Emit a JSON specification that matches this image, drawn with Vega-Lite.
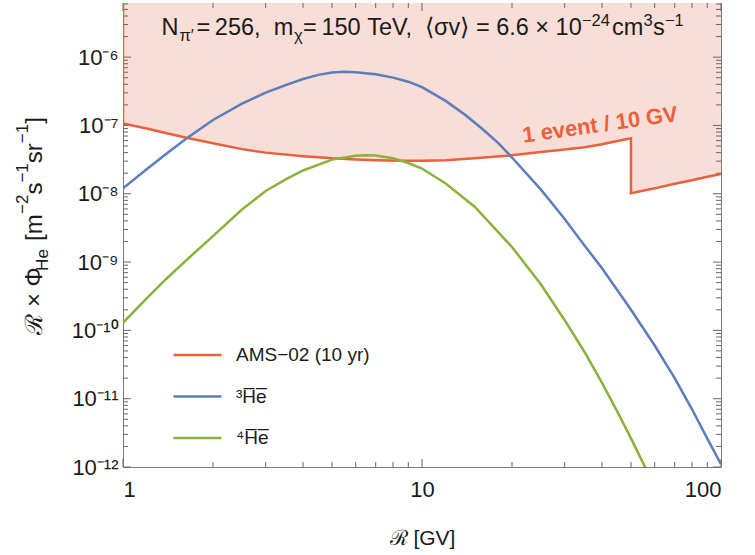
{
"$schema": "https://vega.github.io/schema/vega-lite/v6.json",
"width": 598, "height": 464,
"autosize": {"type": "none"},
"padding": {"left": 123, "top": 3, "right": 34, "bottom": 88},
"background": "white",
"config": {
  "view": {"stroke": "#7a7a7a", "strokeWidth": 1},
  "font": "Liberation Sans",
  "axis": {"domain": false, "grid": false, "ticks": false, "tickSize": 0, "labelFont": "Liberation Sans", "labelColor": "#1a1a1a", "titleFont": "Liberation Sans", "titleColor": "#1a1a1a", "titleFontWeight": "normal"},
  "text": {"font": "Liberation Sans", "color": "#1a1a1a"},
  "rule": {"color": "#666666", "strokeWidth": 1}
},
"datasets": {
  "curves": [
    {"series": "AMS", "i": 0, "R": 1, "flux": 1.07e-7},
    {"series": "AMS", "i": 1, "R": 1.2, "flux": 9.0e-8},
    {"series": "AMS", "i": 2, "R": 1.4, "flux": 7.7e-8},
    {"series": "AMS", "i": 3, "R": 1.63, "flux": 6.6e-8},
    {"series": "AMS", "i": 4, "R": 2, "flux": 5.5e-8},
    {"series": "AMS", "i": 5, "R": 2.5, "flux": 4.5e-8},
    {"series": "AMS", "i": 6, "R": 3, "flux": 4.0e-8},
    {"series": "AMS", "i": 7, "R": 4, "flux": 3.55e-8},
    {"series": "AMS", "i": 8, "R": 5, "flux": 3.3e-8},
    {"series": "AMS", "i": 9, "R": 6, "flux": 3.18e-8},
    {"series": "AMS", "i": 10, "R": 7, "flux": 3.1e-8},
    {"series": "AMS", "i": 11, "R": 8.5, "flux": 3.05e-8},
    {"series": "AMS", "i": 12, "R": 10, "flux": 3.05e-8},
    {"series": "AMS", "i": 13, "R": 12, "flux": 3.1e-8},
    {"series": "AMS", "i": 14, "R": 15, "flux": 3.3e-8},
    {"series": "AMS", "i": 15, "R": 20, "flux": 3.65e-8},
    {"series": "AMS", "i": 16, "R": 25, "flux": 4.1e-8},
    {"series": "AMS", "i": 17, "R": 30, "flux": 4.45e-8},
    {"series": "AMS", "i": 18, "R": 35, "flux": 4.8e-8},
    {"series": "AMS", "i": 19, "R": 40, "flux": 5.3e-8},
    {"series": "AMS", "i": 20, "R": 45, "flux": 5.9e-8},
    {"series": "AMS", "i": 21, "R": 50, "flux": 6.5e-8},
    {"series": "AMS", "i": 22, "R": 50, "flux": 1.02e-8},
    {"series": "AMS", "i": 23, "R": 60, "flux": 1.2e-8},
    {"series": "AMS", "i": 24, "R": 70, "flux": 1.4e-8},
    {"series": "AMS", "i": 25, "R": 80, "flux": 1.58e-8},
    {"series": "AMS", "i": 26, "R": 90, "flux": 1.77e-8},
    {"series": "AMS", "i": 27, "R": 100, "flux": 1.95e-8},
    {"series": "He3", "i": 0, "R": 1, "flux": 1.20e-8},
    {"series": "He3", "i": 1, "R": 1.2, "flux": 2.29e-8},
    {"series": "He3", "i": 2, "R": 1.4, "flux": 3.89e-8},
    {"series": "He3", "i": 3, "R": 1.63, "flux": 6.46e-8},
    {"series": "He3", "i": 4, "R": 2, "flux": 1.20e-7},
    {"series": "He3", "i": 5, "R": 2.5, "flux": 2.09e-7},
    {"series": "He3", "i": 6, "R": 3, "flux": 3.02e-7},
    {"series": "He3", "i": 7, "R": 3.5, "flux": 3.89e-7},
    {"series": "He3", "i": 8, "R": 4, "flux": 4.79e-7},
    {"series": "He3", "i": 9, "R": 4.5, "flux": 5.50e-7},
    {"series": "He3", "i": 10, "R": 5, "flux": 5.96e-7},
    {"series": "He3", "i": 11, "R": 5.5, "flux": 6.10e-7},
    {"series": "He3", "i": 12, "R": 6, "flux": 6.03e-7},
    {"series": "He3", "i": 13, "R": 7, "flux": 5.62e-7},
    {"series": "He3", "i": 14, "R": 8, "flux": 5.01e-7},
    {"series": "He3", "i": 15, "R": 9, "flux": 4.37e-7},
    {"series": "He3", "i": 16, "R": 10, "flux": 3.63e-7},
    {"series": "He3", "i": 17, "R": 12, "flux": 2.29e-7},
    {"series": "He3", "i": 18, "R": 14, "flux": 1.41e-7},
    {"series": "He3", "i": 19, "R": 16, "flux": 8.71e-8},
    {"series": "He3", "i": 20, "R": 18, "flux": 5.50e-8},
    {"series": "He3", "i": 21, "R": 20, "flux": 3.39e-8},
    {"series": "He3", "i": 22, "R": 25, "flux": 1.15e-8},
    {"series": "He3", "i": 23, "R": 30, "flux": 4.27e-9},
    {"series": "He3", "i": 24, "R": 35, "flux": 1.74e-9},
    {"series": "He3", "i": 25, "R": 40, "flux": 8.13e-10},
    {"series": "He3", "i": 26, "R": 50, "flux": 2.0e-10},
    {"series": "He3", "i": 27, "R": 60, "flux": 6.0e-11},
    {"series": "He3", "i": 28, "R": 70, "flux": 2.0e-11},
    {"series": "He3", "i": 29, "R": 80, "flux": 7.0e-12},
    {"series": "He3", "i": 30, "R": 90, "flux": 2.6e-12},
    {"series": "He3", "i": 31, "R": 100, "flux": 1.1e-12},
    {"series": "He4", "i": 0, "R": 1, "flux": 1.29e-10},
    {"series": "He4", "i": 1, "R": 1.2, "flux": 2.95e-10},
    {"series": "He4", "i": 2, "R": 1.4, "flux": 5.75e-10},
    {"series": "He4", "i": 3, "R": 1.63, "flux": 1.07e-9},
    {"series": "He4", "i": 4, "R": 2, "flux": 2.40e-9},
    {"series": "He4", "i": 5, "R": 2.5, "flux": 5.89e-9},
    {"series": "He4", "i": 6, "R": 3, "flux": 1.10e-8},
    {"series": "He4", "i": 7, "R": 3.5, "flux": 1.62e-8},
    {"series": "He4", "i": 8, "R": 4, "flux": 2.19e-8},
    {"series": "He4", "i": 9, "R": 5, "flux": 3.16e-8},
    {"series": "He4", "i": 10, "R": 6, "flux": 3.59e-8},
    {"series": "He4", "i": 11, "R": 6.5, "flux": 3.67e-8},
    {"series": "He4", "i": 12, "R": 7, "flux": 3.63e-8},
    {"series": "He4", "i": 13, "R": 8, "flux": 3.31e-8},
    {"series": "He4", "i": 14, "R": 9, "flux": 2.82e-8},
    {"series": "He4", "i": 15, "R": 10, "flux": 2.34e-8},
    {"series": "He4", "i": 16, "R": 12, "flux": 1.41e-8},
    {"series": "He4", "i": 17, "R": 15, "flux": 6.46e-9},
    {"series": "He4", "i": 18, "R": 20, "flux": 1.66e-9},
    {"series": "He4", "i": 19, "R": 25, "flux": 4.68e-10},
    {"series": "He4", "i": 20, "R": 30, "flux": 1.41e-10},
    {"series": "He4", "i": 21, "R": 35, "flux": 4.79e-11},
    {"series": "He4", "i": 22, "R": 40, "flux": 1.70e-11},
    {"series": "He4", "i": 23, "R": 45, "flux": 6.46e-12},
    {"series": "He4", "i": 24, "R": 50, "flux": 2.63e-12},
    {"series": "He4", "i": 25, "R": 55, "flux": 1.12e-12},
    {"series": "He4", "i": 26, "R": 60, "flux": 5.01e-13}
  ],
  "yticks": [
    {"v": 1e-12, "kind": "major"}, {"v": 1e-11, "kind": "major"}, {"v": 1e-10, "kind": "major"}, {"v": 1e-9, "kind": "major"}, {"v": 1e-8, "kind": "major"}, {"v": 1e-7, "kind": "major"}, {"v": 1e-6, "kind": "major"},
    {"v": 2e-12, "kind": "minor"}, {"v": 3e-12, "kind": "minor"}, {"v": 4e-12, "kind": "minor"}, {"v": 5e-12, "kind": "minor"}, {"v": 6e-12, "kind": "minor"}, {"v": 7e-12, "kind": "minor"}, {"v": 8e-12, "kind": "minor"}, {"v": 9e-12, "kind": "minor"},
    {"v": 2e-11, "kind": "minor"}, {"v": 3e-11, "kind": "minor"}, {"v": 4e-11, "kind": "minor"}, {"v": 5e-11, "kind": "minor"}, {"v": 6e-11, "kind": "minor"}, {"v": 7e-11, "kind": "minor"}, {"v": 8e-11, "kind": "minor"}, {"v": 9e-11, "kind": "minor"},
    {"v": 2e-10, "kind": "minor"}, {"v": 3e-10, "kind": "minor"}, {"v": 4e-10, "kind": "minor"}, {"v": 5e-10, "kind": "minor"}, {"v": 6e-10, "kind": "minor"}, {"v": 7e-10, "kind": "minor"}, {"v": 8e-10, "kind": "minor"}, {"v": 9e-10, "kind": "minor"},
    {"v": 2e-9, "kind": "minor"}, {"v": 3e-9, "kind": "minor"}, {"v": 4e-9, "kind": "minor"}, {"v": 5e-9, "kind": "minor"}, {"v": 6e-9, "kind": "minor"}, {"v": 7e-9, "kind": "minor"}, {"v": 8e-9, "kind": "minor"}, {"v": 9e-9, "kind": "minor"},
    {"v": 2e-8, "kind": "minor"}, {"v": 3e-8, "kind": "minor"}, {"v": 4e-8, "kind": "minor"}, {"v": 5e-8, "kind": "minor"}, {"v": 6e-8, "kind": "minor"}, {"v": 7e-8, "kind": "minor"}, {"v": 8e-8, "kind": "minor"}, {"v": 9e-8, "kind": "minor"},
    {"v": 2e-7, "kind": "minor"}, {"v": 3e-7, "kind": "minor"}, {"v": 4e-7, "kind": "minor"}, {"v": 5e-7, "kind": "minor"}, {"v": 6e-7, "kind": "minor"}, {"v": 7e-7, "kind": "minor"}, {"v": 8e-7, "kind": "minor"}, {"v": 9e-7, "kind": "minor"},
    {"v": 2e-6, "kind": "minor"}, {"v": 3e-6, "kind": "minor"}, {"v": 4e-6, "kind": "minor"}, {"v": 5e-6, "kind": "minor"}, {"v": 6e-6, "kind": "minor"}
  ],
  "xticks": [
    {"v": 1, "kind": "major"}, {"v": 10, "kind": "major"}, {"v": 100, "kind": "major"},
    {"v": 2, "kind": "minor"}, {"v": 3, "kind": "minor"}, {"v": 4, "kind": "minor"}, {"v": 5, "kind": "minor"}, {"v": 6, "kind": "minor"}, {"v": 7, "kind": "minor"}, {"v": 8, "kind": "minor"}, {"v": 9, "kind": "minor"},
    {"v": 20, "kind": "minor"}, {"v": 30, "kind": "minor"}, {"v": 40, "kind": "minor"}, {"v": 50, "kind": "minor"}, {"v": 60, "kind": "minor"}, {"v": 70, "kind": "minor"}, {"v": 80, "kind": "minor"}, {"v": 90, "kind": "minor"}
  ]
},
"resolve": {"axis": {"x": "independent", "y": "independent"}},
"layer": [
  {
    "data": {"name": "curves"},
    "transform": [{"filter": "datum.series === 'AMS'"}],
    "mark": {"type": "area", "color": "#F8DED6", "clip": true},
    "encoding": {
      "x": {"field": "R", "type": "quantitative", "scale": {"type": "log", "domain": [1, 100], "nice": false},
            "axis": {"orient": "bottom", "values": [1, 10, 100], "format": "d", "labelFontSize": 22, "labelPadding": 12, "title": "ℛ [GV]", "titleFontSize": 21, "titlePadding": 27}},
      "y": {"field": "flux", "type": "quantitative", "scale": {"type": "log", "domain": [1e-12, 6.2e-6], "nice": false},
            "axis": {"orient": "left", "values": [1e-12, 1e-11, 1e-10, 1e-9, 1e-8, 1e-7, 1e-6], "labelFontSize": 22, "labelPadding": 5, "title": null,
                     "labelExpr": "['10⁻¹²','10⁻¹¹','10⁻¹⁰','10⁻⁹','10⁻⁸','10⁻⁷','10⁻⁶'][round(log(datum.value)/LN10)+12]"}},
      "y2": {"datum": 1e-5}
    }
  },
  {"data": {"name": "yticks"}, "transform": [{"filter": "datum.kind === 'major'"}], "mark": {"type": "rule"},
   "encoding": {"y": {"field": "v", "type": "quantitative", "axis": null}, "x": {"datum": 1, "type": "quantitative", "axis": null}, "x2": {"datum": 1.0635}}},
  {"data": {"name": "yticks"}, "transform": [{"filter": "datum.kind === 'minor'"}], "mark": {"type": "rule"},
   "encoding": {"y": {"field": "v", "type": "quantitative", "axis": null}, "x": {"datum": 1, "type": "quantitative", "axis": null}, "x2": {"datum": 1.0393}}},
  {"data": {"name": "yticks"}, "transform": [{"filter": "datum.kind === 'major'"}], "mark": {"type": "rule"},
   "encoding": {"y": {"field": "v", "type": "quantitative", "axis": null}, "x": {"datum": 94.03, "type": "quantitative", "axis": null}, "x2": {"datum": 100}}},
  {"data": {"name": "yticks"}, "transform": [{"filter": "datum.kind === 'minor'"}], "mark": {"type": "rule"},
   "encoding": {"y": {"field": "v", "type": "quantitative", "axis": null}, "x": {"datum": 96.22, "type": "quantitative", "axis": null}, "x2": {"datum": 100}}},
  {"data": {"name": "xticks"}, "transform": [{"filter": "datum.kind === 'major'"}], "mark": {"type": "rule"},
   "encoding": {"x": {"field": "v", "type": "quantitative", "axis": null}, "y": {"datum": 1e-12, "type": "quantitative", "axis": null}, "y2": {"datum": 1.309e-12}}},
  {"data": {"name": "xticks"}, "transform": [{"filter": "datum.kind === 'minor'"}], "mark": {"type": "rule"},
   "encoding": {"x": {"field": "v", "type": "quantitative", "axis": null}, "y": {"datum": 1e-12, "type": "quantitative", "axis": null}, "y2": {"datum": 1.184e-12}}},
  {"data": {"name": "xticks"}, "transform": [{"filter": "datum.kind === 'major'"}], "mark": {"type": "rule"},
   "encoding": {"x": {"field": "v", "type": "quantitative", "axis": null}, "y": {"datum": 6.2e-6, "type": "quantitative", "axis": null}, "y2": {"datum": 4.74e-6}}},
  {"data": {"name": "xticks"}, "transform": [{"filter": "datum.kind === 'minor'"}], "mark": {"type": "rule"},
   "encoding": {"x": {"field": "v", "type": "quantitative", "axis": null}, "y": {"datum": 6.2e-6, "type": "quantitative", "axis": null}, "y2": {"datum": 5.24e-6}}},
  {
    "data": {"name": "curves"},
    "mark": {"type": "line", "strokeWidth": 2.5, "clip": true},
    "encoding": {
      "x": {"field": "R", "type": "quantitative", "axis": null},
      "y": {"field": "flux", "type": "quantitative", "axis": null},
      "color": {"field": "series", "type": "nominal",
                "scale": {"domain": ["AMS", "He3", "He4"], "range": ["#E9603A", "#5B7DBB", "#8AB23A"]},
                "legend": {"orient": "none", "legendX": 49, "legendY": 342, "title": null, "symbolType": "stroke", "symbolSize": 2304, "symbolStrokeWidth": 2.5,
                           "labelFontSize": 19, "labelFont": "Liberation Sans", "labelColor": "#1a1a1a", "labelOffset": 13, "rowPadding": 21.5, "clipHeight": 20, "padding": 0,
                           "labelExpr": "datum.value == 'AMS' ? 'AMS−02 (10 yr)' : datum.value == 'He3' ? '³H̅e̅' : '⁴H̅e̅'"}},
      "order": {"field": "i"}
    }
  },
  {
    "data": {"values": [{}]},
    "mark": {"type": "rule", "color": "#E9603A", "strokeWidth": 2.5, "clip": true},
    "encoding": {"x": {"datum": 1, "type": "quantitative", "axis": null}, "y": {"datum": 1.07e-7, "type": "quantitative", "axis": null}, "y2": {"datum": 1e-5}}
  },
  {
    "data": {"values": [{}]},
    "mark": {"type": "text", "text": "1 event / 10 GV", "fontSize": 22, "fontWeight": "bold", "color": "#E9603A", "angle": 352, "align": "center", "baseline": "middle"},
    "encoding": {"x": {"datum": 39.4, "type": "quantitative", "axis": null}, "y": {"datum": 1.02e-7, "type": "quantitative", "axis": null}}
  },
  {"data": {"values": [{}]}, "mark": {"type": "text", "text": "N", "fontSize": 23.5, "align": "left", "baseline": "alphabetic"},
   "encoding": {"x": {"datum": 1.345, "type": "quantitative", "axis": null}, "y": {"datum": 2.10e-6, "type": "quantitative", "axis": null}}},
  {"data": {"values": [{}]}, "mark": {"type": "text", "text": "π′", "fontSize": 16.5, "align": "left", "baseline": "alphabetic"},
   "encoding": {"x": {"datum": 1.545, "type": "quantitative", "axis": null}, "y": {"datum": 1.71e-6, "type": "quantitative", "axis": null}}},
  {"data": {"values": [{}]}, "mark": {"type": "text", "text": "\u2009=\u2009256,\u00a0\u00a0m", "fontSize": 23.5, "align": "left", "baseline": "alphabetic"},
   "encoding": {"x": {"datum": 1.760, "type": "quantitative", "axis": null}, "y": {"datum": 2.10e-6, "type": "quantitative", "axis": null}}},
  {"data": {"values": [{}]}, "mark": {"type": "text", "text": "χ", "fontSize": 16.5, "align": "left", "baseline": "alphabetic"},
   "encoding": {"x": {"datum": 3.732, "type": "quantitative", "axis": null}, "y": {"datum": 1.71e-6, "type": "quantitative", "axis": null}}},
  {"data": {"values": [{}]}, "mark": {"type": "text", "text": "\u2009=\u2009150\u00a0TeV,\u00a0\u00a0⟨σv⟩\u00a0=\u00a06.6\u00a0×\u00a010", "fontSize": 23.5, "align": "left", "baseline": "alphabetic"},
   "encoding": {"x": {"datum": 4.0, "type": "quantitative", "axis": null}, "y": {"datum": 2.10e-6, "type": "quantitative", "axis": null}}},
  {"data": {"values": [{}]}, "mark": {"type": "text", "text": "−24", "fontSize": 16.5, "align": "left", "baseline": "alphabetic"},
   "encoding": {"x": {"datum": 34.28, "type": "quantitative", "axis": null}, "y": {"datum": 2.84e-6, "type": "quantitative", "axis": null}}},
  {"data": {"values": [{}]}, "mark": {"type": "text", "text": "cm", "fontSize": 23.5, "align": "left", "baseline": "alphabetic"},
   "encoding": {"x": {"datum": 43.2, "type": "quantitative", "axis": null}, "y": {"datum": 2.10e-6, "type": "quantitative", "axis": null}}},
  {"data": {"values": [{}]}, "mark": {"type": "text", "text": "3", "fontSize": 16.5, "align": "left", "baseline": "alphabetic"},
   "encoding": {"x": {"datum": 55.06, "type": "quantitative", "axis": null}, "y": {"datum": 2.84e-6, "type": "quantitative", "axis": null}}},
  {"data": {"values": [{}]}, "mark": {"type": "text", "text": "s", "fontSize": 23.5, "align": "left", "baseline": "alphabetic"},
   "encoding": {"x": {"datum": 59.24, "type": "quantitative", "axis": null}, "y": {"datum": 2.10e-6, "type": "quantitative", "axis": null}}},
  {"data": {"values": [{}]}, "mark": {"type": "text", "text": "−1", "fontSize": 16.5, "align": "left", "baseline": "alphabetic"},
   "encoding": {"x": {"datum": 64.96, "type": "quantitative", "axis": null}, "y": {"datum": 2.84e-6, "type": "quantitative", "axis": null}}},
  {"data": {"values": [{}]}, "mark": {"type": "text", "text": "ℛ × Φ", "fontSize": 24, "angle": 270, "align": "left", "baseline": "alphabetic"},
   "encoding": {"x": {"datum": 0.536, "type": "quantitative", "axis": null}, "y": {"datum": 8.62e-11, "type": "quantitative", "axis": null}}},
  {"data": {"values": [{}]}, "mark": {"type": "text", "text": "He", "fontSize": 17, "angle": 270, "align": "left", "baseline": "alphabetic"},
   "encoding": {"x": {"datum": 0.561, "type": "quantitative", "axis": null}, "y": {"datum": 7.43e-10, "type": "quantitative", "axis": null}}},
  {"data": {"values": [{}]}, "mark": {"type": "text", "text": "[m", "fontSize": 24, "angle": 270, "align": "left", "baseline": "alphabetic"},
   "encoding": {"x": {"datum": 0.536, "type": "quantitative", "axis": null}, "y": {"datum": 2.04e-9, "type": "quantitative", "axis": null}}},
  {"data": {"values": [{}]}, "mark": {"type": "text", "text": "−2", "fontSize": 17, "angle": 270, "align": "left", "baseline": "alphabetic"},
   "encoding": {"x": {"datum": 0.481, "type": "quantitative", "axis": null}, "y": {"datum": 5.07e-9, "type": "quantitative", "axis": null}}},
  {"data": {"values": [{}]}, "mark": {"type": "text", "text": "s", "fontSize": 24, "angle": 270, "align": "left", "baseline": "alphabetic"},
   "encoding": {"x": {"datum": 0.536, "type": "quantitative", "axis": null}, "y": {"datum": 9.73e-9, "type": "quantitative", "axis": null}}},
  {"data": {"values": [{}]}, "mark": {"type": "text", "text": "−1", "fontSize": 17, "angle": 270, "align": "left", "baseline": "alphabetic"},
   "encoding": {"x": {"datum": 0.481, "type": "quantitative", "axis": null}, "y": {"datum": 1.458e-8, "type": "quantitative", "axis": null}}},
  {"data": {"values": [{}]}, "mark": {"type": "text", "text": "sr", "fontSize": 24, "angle": 270, "align": "left", "baseline": "alphabetic"},
   "encoding": {"x": {"datum": 0.536, "type": "quantitative", "axis": null}, "y": {"datum": 2.80e-8, "type": "quantitative", "axis": null}}},
  {"data": {"values": [{}]}, "mark": {"type": "text", "text": "−1", "fontSize": 17, "angle": 270, "align": "left", "baseline": "alphabetic"},
   "encoding": {"x": {"datum": 0.481, "type": "quantitative", "axis": null}, "y": {"datum": 5.49e-8, "type": "quantitative", "axis": null}}},
  {"data": {"values": [{}]}, "mark": {"type": "text", "text": "]", "fontSize": 24, "angle": 270, "align": "left", "baseline": "alphabetic"},
   "encoding": {"x": {"datum": 0.536, "type": "quantitative", "axis": null}, "y": {"datum": 1.055e-7, "type": "quantitative", "axis": null}}}
]
}
